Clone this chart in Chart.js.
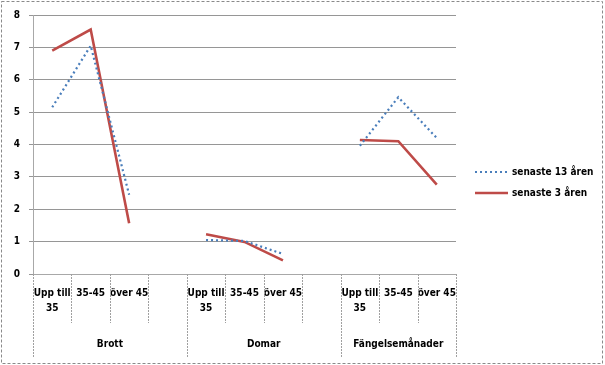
<!DOCTYPE html>
<html>
<head>
<meta charset="utf-8">
<script src="https://cdn.jsdelivr.net/npm/chart.js@4/dist/chart.umd.min.js"></script>
<style>
  html, body { margin: 0; padding: 0; background: #fff; }
  #wrap { width: 605px; height: 365px; }
</style>
</head>
<body>
<div id="wrap"><canvas id="chart" width="605" height="365"></canvas></div>
<script>
// kategorier på x-axeln (tom kategori mellan grupperna)
const categories = [
  ['Upp till', '35'], '35-45', 'över 45', '',
  ['Upp till', '35'], '35-45', 'över 45', '',
  ['Upp till', '35'], '35-45', 'över 45'
];
const groupLabels = ['Brott', 'Domar', 'Fängelsemånader'];
const groupSizes = [4, 4, 3];

// serier
const seriesNames = ['senaste 13 åren', 'senaste 3 åren'];
const senaste13 = [5.15, 7.05, 2.45, null, 1.05, 1.02, 0.62, null, 3.96, 5.46, 4.2];
const senaste3 = [6.9, 7.55, 1.57, null, 1.23, 0.99, 0.42, null, 4.14, 4.1, 2.76];

const yMin = 0;
const yMax = 8;
const yStep = 1;

const FONT = "'DejaVu Sans Condensed', 'DejaVu Sans', sans-serif";
const BLUE = '#4A7EBB';
const RED = '#BE4B48';

// ram runt hela diagrammet
const framePlugin = {
  id: 'frame',
  afterDraw(chart) {
    const ctx = chart.ctx;
    ctx.save();
    ctx.strokeStyle = '#8a8a8a';
    ctx.lineWidth = 1;
    ctx.setLineDash([3, 2]);
    ctx.strokeRect(1.5, 1.5, 601, 362);
    ctx.restore();
  }
};

// avdelare och gruppnamn under x-axeln
const groupAxisPlugin = {
  id: 'groupAxis',
  afterDraw(chart) {
    const ctx = chart.ctx;
    const x = chart.scales.x;
    const half = (x.getPixelForValue(1) - x.getPixelForValue(0)) / 2;
    const top = x.top;
    ctx.save();
    ctx.strokeStyle = '#a0a0a0';
    ctx.lineWidth = 1;
    ctx.setLineDash([2, 1]);
    // gruppgränser
    const bounds = [0];
    groupSizes.forEach(n => bounds.push(bounds[bounds.length - 1] + n));
    for (let i = 0; i <= categories.length; i++) {
      const px = Math.round(x.getPixelForValue(0) - half + i * half * 2) + 0.5;
      const long = bounds.includes(i);
      ctx.beginPath();
      ctx.moveTo(px, top);
      ctx.lineTo(px, top + (long ? 83 : 49));
      ctx.stroke();
    }
    ctx.setLineDash([]);
    ctx.fillStyle = '#000';
    ctx.font = 'bold 10px ' + FONT;
    ctx.textAlign = 'center';
    ctx.textBaseline = 'middle';
    groupLabels.forEach((g, gi) => {
      const a = x.getPixelForValue(bounds[gi]) - half;
      const b = x.getPixelForValue(bounds[gi + 1] - 1) + half;
      ctx.fillText(g, (a + b) / 2, top + 70);
    });
    ctx.restore();
  }
};

// förklaring till höger
const sideLegendPlugin = {
  id: 'sideLegend',
  afterDraw(chart) {
    const ctx = chart.ctx;
    const left = chart.chartArea.right + 19;
    ctx.save();
    ctx.font = 'bold 10px ' + FONT;
    ctx.textBaseline = 'middle';
    ctx.fillStyle = '#000';
    chart.data.datasets.forEach((ds, i) => {
      const y = 172 + i * 21;
      ctx.strokeStyle = ds.borderColor;
      ctx.lineWidth = ds.borderWidth;
      ctx.setLineDash(ds.borderDash || []);
      ctx.beginPath();
      ctx.moveTo(left, y);
      ctx.lineTo(left + 33, y);
      ctx.stroke();
      ctx.fillText(ds.label, left + 37, y);
    });
    ctx.restore();
  }
};

const chart = new Chart(document.getElementById('chart').getContext('2d'), {
  type: 'line',
  data: {
    labels: categories,
    datasets: [
      {
        label: seriesNames[0],
        data: senaste13,
        borderColor: BLUE,
        borderWidth: 2.2,
        borderDash: [2, 3],
        pointRadius: 0,
        tension: 0,
        spanGaps: false
      },
      {
        label: seriesNames[1],
        data: senaste3,
        borderColor: RED,
        borderWidth: 2.6,
        pointRadius: 0,
        tension: 0,
        spanGaps: false
      }
    ]
  },
  options: {
    responsive: false,
    animation: false,
    devicePixelRatio: 1,
    layout: { padding: { top: 14, right: 149, bottom: 0, left: 0 } },
    plugins: {
      legend: { display: false },
      tooltip: { enabled: false }
    },
    scales: {
      x: {
        offset: true,
        grid: { display: false, drawTicks: false },
        border: { display: true, color: '#a8a8a8' },
        ticks: {
          color: '#000',
          font: { family: FONT, size: 10, weight: 'bold', lineHeight: 1.5 },
          padding: 12,
          maxRotation: 0,
          autoSkip: false
        },
        afterFit(scale) { scale.height = 91; }
      },
      y: {
        min: yMin,
        max: yMax,
        grid: { color: '#969696', tickLength: 4 },
        border: { display: true, color: '#a8a8a8' },
        ticks: {
          stepSize: yStep,
          color: '#000',
          font: { family: FONT, size: 10, weight: 'bold' },
          padding: 9
        },
        afterFit(scale) { scale.width = 33; }
      }
    }
  },
  plugins: [framePlugin, groupAxisPlugin, sideLegendPlugin]
});
</script>
</body>
</html>
